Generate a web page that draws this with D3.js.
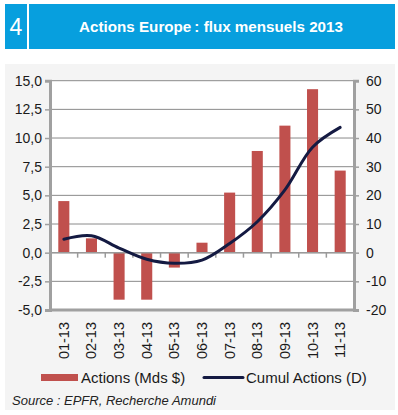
<!DOCTYPE html>
<html lang="fr">
<head>
<meta charset="utf-8">
<script src="https://d3js.org/d3.v7.min.js"></script>
<style>
  body { margin: 0; background: #fff; font-family: "Liberation Sans", Arial, sans-serif; }
  svg { display: block; }
</style>
</head>
<body>
<div class="main"></div>
<script>
// data
var months = ["01-13", "02-13", "03-13", "04-13", "05-13", "06-13", "07-13", "08-13", "09-13", "10-13", "11-13"]
var actions = [4.5, 1.25, -4.1, -4.1, -1.3, 0.87, 5.24, 8.87, 11.08, 14.26, 7.16]
var cumul = [4.7, 5.9, 1.6, -2.3, -3.7, -2.6, 3.2, 10.8, 21.9, 36.8, 43.7]
var leftTicks = [-5, -2.5, 0, 2.5, 5, 7.5, 10, 12.5, 15]
var rightTicks = [-20, -10, 0, 10, 20, 30, 40, 50, 60]

var width = 398
var height = 415
var svg = d3.select(".main").append("svg")
  .attr("width", width)
  .attr("height", height)

// header band
svg.append("rect").attr("x", 5).attr("y", 4).attr("width", 390).attr("height", 45).attr("fill", "#079fde")
svg.append("rect").attr("x", 27).attr("y", 4).attr("width", 2).attr("height", 45).attr("fill", "#fff")
svg.append("text").attr("x", 16).attr("y", 34.5).attr("text-anchor", "middle")
  .attr("fill", "#fff").style("font-size", "23px").text("4")
svg.append("text").attr("x", 211).attr("y", 32).attr("text-anchor", "middle")
  .attr("fill", "#fff").style("font-size", "15.2px").style("font-weight", "bold")
  .text("Actions Europe\u202F: flux mensuels 2013")

// panel
svg.append("rect").attr("x", 5).attr("y", 64).attr("width", 390).attr("height", 346).attr("fill", "#f4f4f4")

var plotL = 50, plotR = 354, plotT = 80.7, plotB = 310
svg.append("rect").attr("x", plotL).attr("y", plotT).attr("width", plotR - plotL).attr("height", plotB - plotT).attr("fill", "#fff")

var x = d3.scaleBand().domain(months).range([plotL, plotR]).paddingInner(0.6).paddingOuter(0.3)
var xb = d3.scaleBand().domain(months).range([plotL, plotR])
var yL = d3.scaleLinear().domain([-5, 15]).range([plotB, plotT])
var yR = d3.scaleLinear().domain([-20, 60]).range([plotB, plotT])

// gridlines
svg.append("g").selectAll("line").data(leftTicks).enter().append("line")
  .attr("x1", plotL).attr("x2", plotR)
  .attr("y1", function(d){ return yL(d) }).attr("y2", function(d){ return yL(d) })
  .attr("stroke", "#8a8a8a").attr("stroke-width", 1)

// bars
svg.append("g").selectAll("rect").data(actions).enter().append("rect")
  .attr("x", function(d, i){ return x(months[i]) })
  .attr("width", x.bandwidth())
  .attr("y", function(d){ return yL(Math.max(0, d)) })
  .attr("height", function(d){ return Math.abs(yL(d) - yL(0)) })
  .attr("fill", "#c0504d")

// zero axis with category ticks
svg.append("line").attr("x1", plotL).attr("x2", plotR).attr("y1", yL(0)).attr("y2", yL(0))
  .attr("stroke", "#9a9a9a").attr("stroke-width", 1.5)
svg.append("g").selectAll("line").data(months.slice(1)).enter().append("line")
  .attr("x1", function(d){ return xb(d) }).attr("x2", function(d){ return xb(d) })
  .attr("y1", yL(0)).attr("y2", yL(0) + 5)
  .attr("stroke", "#9a9a9a").attr("stroke-width", 1.5)

// cumulative line
var line = d3.line()
  .x(function(d, i){ return xb(months[i]) + xb.bandwidth() / 2 })
  .y(function(d){ return yR(d) })
  .curve(d3.curveCatmullRom.alpha(0.5))
svg.append("path").datum(cumul).attr("d", line)
  .attr("fill", "none").attr("stroke", "#141a42").attr("stroke-width", 3)
  .attr("stroke-linejoin", "round").attr("stroke-linecap", "round")

// axes
var axisColor = "#a0a0a0"
var gl = svg.append("g").attr("transform", "translate(" + plotL + ",0)")
  .call(d3.axisLeft(yL).tickValues(leftTicks).tickSize(5).tickPadding(3)
    .tickFormat(function(d){ return d3.format(".1f")(d).replace(".", ",").replace("\u2212", "-") }))
var gr = svg.append("g").attr("transform", "translate(" + plotR + ",0)")
  .call(d3.axisRight(yR).tickValues(rightTicks).tickSize(5).tickPadding(7)
    .tickFormat(function(d){ return String(d) }))
svg.append("line").attr("x1", plotL - 1).attr("x2", plotR + 1).attr("y1", plotB).attr("y2", plotB)
  .attr("stroke", axisColor).attr("stroke-width", 3)
;[gl, gr].forEach(function(g){
  g.select(".domain").attr("stroke", axisColor).attr("stroke-width", 3)
  g.selectAll(".tick line").attr("stroke", axisColor).attr("stroke-width", 1.5)
  g.selectAll("text").attr("fill", "#1a1a1a").style("font-size", "14px")
    .style("font-family", "'Liberation Sans', Arial, sans-serif")
})

// month labels
svg.append("g").selectAll("text").data(months).enter().append("text")
  .attr("transform", function(d){ return "translate(" + (xb(d) + xb.bandwidth() / 2 + 5) + "," + 322 + ") rotate(-90)" })
  .attr("text-anchor", "end")
  .attr("fill", "#1a1a1a").style("font-size", "14.5px")
  .text(function(d){ return d })

// legend
svg.append("rect").attr("x", 41).attr("y", 374).attr("width", 37).attr("height", 7).attr("fill", "#c0504d")
svg.append("text").attr("x", 81).attr("y", 383).attr("fill", "#1a1a1a").style("font-size", "15px").text("Actions (Mds $)")
svg.append("line").attr("x1", 204).attr("x2", 243).attr("y1", 377.5).attr("y2", 377.5)
  .attr("stroke", "#141a42").attr("stroke-width", 3).attr("stroke-linecap", "round")
svg.append("text").attr("x", 246).attr("y", 383).attr("fill", "#1a1a1a").style("font-size", "15px").text("Cumul Actions (D)")

svg.append("text").attr("x", 12).attr("y", 405).attr("fill", "#222").style("font-size", "13px")
  .style("font-style", "italic").text("Source : EPFR, Recherche Amundi")
</script>
</body>
</html>
